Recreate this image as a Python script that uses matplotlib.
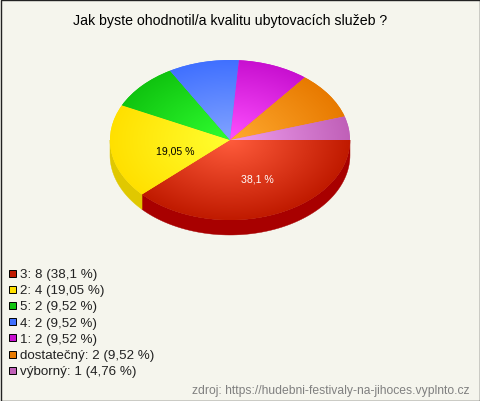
import numpy as np
import matplotlib
matplotlib.use("Agg")
import matplotlib.pyplot as plt
from matplotlib.colors import to_rgb
from matplotlib.patches import Rectangle

plt.rcParams['font.family'] = ['Liberation Sans', 'DejaVu Sans']

TITLE = "Jak byste ohodnotil/a kvalitu ubytovacích služeb ?"
SOURCE = "zdroj: https://hudebni-festivaly-na-jihoces.vyplnto.cz"
names = ["3", "2", "5", "4", "1", "dostatečný", "výborný"]
counts = [8, 4, 2, 2, 2, 2, 1]
pct_text = ["38,1", "19,05", "9,52", "9,52", "9,52", "9,52", "4,76"]
edge_colors = ["#c01a00", "#ffe000", "#10c410", "#4070ff", "#c810d0", "#e87a00", "#c060b8"]
center_colors = ["#ff5c3c", "#ffff30", "#30ff30", "#82a4ff", "#ff50ff", "#ffaa30", "#f0a0f0"]
side_colors = ["#a80000", "#e0c800", "#0a9a0a", "#3050c8", "#a000a8", "#c06000", "#a04898"]
BG = "#f5f5ed"

W, H = 480, 402
fig = plt.figure(figsize=(W / 100, H / 100), dpi=100, facecolor=BG)

ov = fig.add_axes([0, 0, 1, 1], zorder=3)
ov.set_xlim(0, W)
ov.set_ylim(H, 0)
ov.axis("off")
ov.patch.set_alpha(0)

cx, cy, rx, ry, depth = 230, 141, 120, 80, 15
ax = fig.add_axes([(cx - rx) / W, 1 - (cy + ry) / H, 2 * rx / W, 2 * ry / H], zorder=2)
ax.patch.set_alpha(0)

wedges, _ = ax.pie(counts, startangle=0, counterclock=False, radius=1.0,
                   colors=edge_colors, wedgeprops=dict(linewidth=0))
ax.set_aspect("auto")
ax.set_xlim(-1, 1)
ax.set_ylim(-1, 1)
ax.axis("off")

d = 2 * depth / (2 * ry)
for w, c in zip(wedges, side_colors):
    a0, a1 = w.theta1 % 360, w.theta2 % 360
    if a1 <= a0:
        a1 += 360
    lo, hi = max(a0, 180), min(a1, 360)
    if hi > lo:
        t = np.radians(np.linspace(lo, hi, 80))
        xs = np.r_[np.cos(t), np.cos(t)[::-1]]
        ys = np.r_[np.sin(t), np.sin(t)[::-1] - d]
        ax.fill(xs, ys, color=c, lw=0.3, clip_on=False, zorder=1)

n = 500
gx, gy = np.meshgrid(np.linspace(-1, 1, n), np.linspace(-1, 1, n))
rr = np.clip(np.hypot(gx, gy), 0, 1)[..., None]
for w, e, c in zip(wedges, edge_colors, center_colors):
    w.set_zorder(2)
    img = np.array(to_rgb(c)) * (1 - rr) + np.array(to_rgb(e)) * rr
    im = ax.imshow(img, extent=(-1, 1, -1, 1), origin="lower", aspect="auto",
                   zorder=3, interpolation="bilinear")
    im.set_clip_path(w)
ax.set_xlim(-1, 1)
ax.set_ylim(-1, 1)

ax.text(0.225, -0.475, pct_text[0] + " %", color="white", fontsize=7.6, ha="center", va="center", zorder=5)
ax.text(-0.46, -0.135, pct_text[1] + " %", color="black", fontsize=7.6, ha="center", va="center", zorder=5)

ov.text(230.5, 21, TITLE, fontsize=10.2, ha="center", va="center", color="black")

for i, (nm, ct, p, e) in enumerate(zip(names, counts, pct_text, edge_colors)):
    y = 274.5 + i * 16.1
    ov.add_patch(Rectangle((9, y - 3.5), 7, 7, facecolor=e, edgecolor="black", lw=0.7))
    ov.text(20, y + 0.8, f"{nm}: {ct} ({p} %)", fontsize=9.6, va="center", ha="left", color="#222222")

ov.text(470, 390.8, SOURCE, fontsize=8.7, ha="right", va="center", color="#808080")

ov.add_patch(Rectangle((0.5, 0.5), W - 1, H - 1, fill=False, edgecolor="#222222", lw=1))

fig.savefig("out.png", dpi=100, facecolor=BG)
